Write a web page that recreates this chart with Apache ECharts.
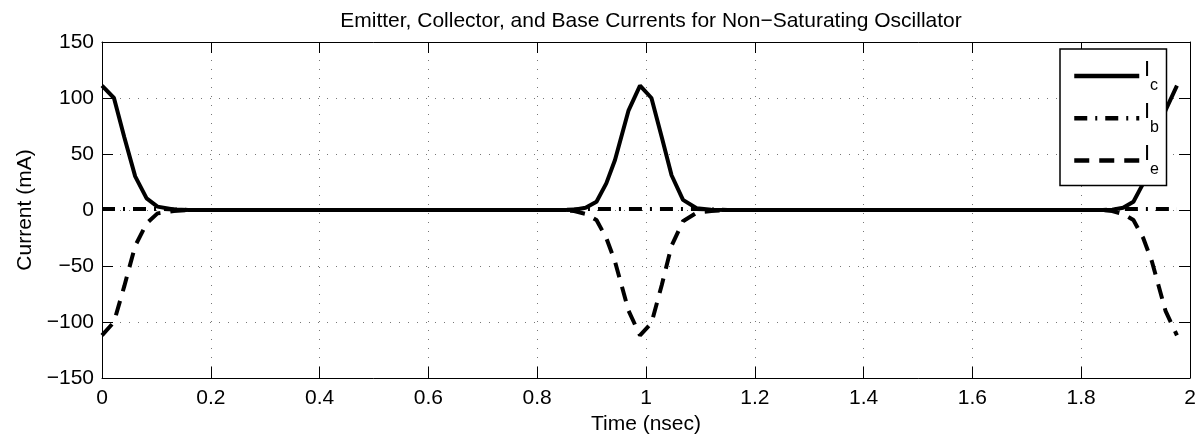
<!DOCTYPE html>
<html>
<head>
<meta charset="UTF-8">
<title>Oscillator currents</title>
<script src="https://cdn.jsdelivr.net/npm/echarts@6/dist/echarts.min.js"></script>
<style>
  html, body { margin: 0; padding: 0; background: #fff; }
  #main { width: 1203px; height: 444px; }
</style>
</head>
<body>
<div id="main"></div>
<script>
// time samples (nsec)
var timeNs = [0, 0.022, 0.041, 0.061, 0.082, 0.102, 0.132, 0.16,
  0.85, 0.868, 0.889, 0.909, 0.927, 0.943, 0.968, 0.989, 1.010, 1.029, 1.047, 1.068, 1.093, 1.12, 1.15,
  1.84, 1.857, 1.877, 1.896, 1.914, 1.930, 1.955, 1.976];
// collector current (mA)
var ic = [111, 100, 65, 30, 10.4, 3, 0.5, 0,
  0, 0.3, 2, 7.4, 23.8, 44.6, 89, 111, 100, 65, 31, 9, 1.5, 0.3, 0,
  0, 0.3, 2, 7.4, 23.8, 44.6, 89, 111];
// base current (mA)
var ib = [1, 1, 1, 1, 1, 1, 0.5, 0,
  0, 0.5, 1, 1, 1, 1, 1, 1, 1, 1, 1, 1, 1, 0.5, 0,
  0, 0.5, 1, 1, 1, 1, 1, 1];
// emitter current (mA)
var ie = [-112, -100, -68, -32, -12, -3, -1, 0,
  0, -1, -3.5, -9, -25, -46, -90, -112, -101, -67, -32, -10, -2.5, -0.8, 0,
  0, -1, -3.5, -9, -25, -46, -90, -112];

var names = ['Ic', 'Ib', 'Ie'];
var subs = ['c', 'b', 'e'];

function pairs(vals) {
  var out = [];
  for (var i = 0; i < timeNs.length; i++) out.push([timeNs[i], vals[i]]);
  return out;
}

var font = 'Liberation Sans, Arial, Helvetica, sans-serif';
var my_chart = echarts.init(document.getElementById('main'), null, { renderer: 'canvas' });

function lineSeries(name, vals, dash) {
  return {
    name: name,
    type: 'line',
    data: pairs(vals),
    showSymbol: false,
    symbol: 'none',
    smooth: false,
    lineStyle: { color: '#000', width: 4, type: dash },
    itemStyle: { color: '#000' },
    z: 3
  };
}

// box around the plot: ticks on all four sides, pointing inward
function boxAxis(pos, extra) {
  var a = {
    type: 'value', position: pos,
    axisLine: { show: true, onZero: false, lineStyle: { color: '#000', width: 1 } },
    axisTick: { show: true, inside: true, length: 11, lineStyle: { color: '#000' } },
    axisLabel: { show: false },
    splitLine: { show: false }
  };
  for (var k in extra) a[k] = extra[k];
  return a;
}

var gridDots = { show: true, lineStyle: { color: '#777', width: 1, type: [1, 8] } };

// legend geometry (box at 1060,49; rows 42px apart); labels I_c etc drawn as text
var legTop = 49, legPad = [13, 25, 14, 12], rowSpan = 42;
var labelGraphics = [];
for (var r = 0; r < names.length; r++) {
  var yc = legTop + legPad[0] + 12.5 + r * rowSpan;
  labelGraphics.push({
    type: 'text', left: 1144, top: yc - 16, z: 100,
    style: { text: 'I', font: '22px ' + font, fill: '#000' }
  });
  labelGraphics.push({
    type: 'text', left: 1150, top: yc + 3, z: 100,
    style: { text: subs[r], font: '16px ' + font, fill: '#000' }
  });
}

var option = {
  animation: false,
  backgroundColor: '#fff',
  textStyle: { fontFamily: font },
  title: {
    text: 'Emitter, Collector, and Base Currents for Non\u2212Saturating Oscillator',
    left: 646,
    textAlign: 'center',
    top: 6,
    textStyle: { fontSize: 21, fontWeight: 'normal', color: '#000', fontFamily: font }
  },
  grid: { left: 102, right: 13, top: 42, bottom: 66 },
  legend: {
    data: names,
    orient: 'vertical',
    left: 1060,
    top: legTop,
    padding: legPad,
    itemWidth: 65,
    itemHeight: 28,
    itemGap: 17,
    backgroundColor: '#fff',
    borderColor: '#000',
    borderWidth: 1.5,
    itemStyle: { opacity: 0 },
    lineStyle: { width: 4.5 },
    formatter: function () { return ''; }
  },
  graphic: labelGraphics,
  xAxis: [boxAxis('bottom', {
    min: 0, max: 2, interval: 0.2,
    name: 'Time (nsec)',
    nameLocation: 'middle',
    nameGap: 34,
    nameTextStyle: { fontSize: 21, color: '#000', fontFamily: font },
    axisLabel: { show: true, fontSize: 21, color: '#000', margin: 10, fontFamily: font },
    splitLine: gridDots
  }), boxAxis('top', { min: 0, max: 2, interval: 0.2 })],
  yAxis: [boxAxis('left', {
    min: -150, max: 150, interval: 50,
    name: 'Current (mA)',
    nameLocation: 'middle',
    nameGap: 58,
    nameTextStyle: { fontSize: 21, color: '#000', fontFamily: font },
    axisLabel: {
      show: true, fontSize: 21, color: '#000', margin: 8, fontFamily: font,
      formatter: function (v) { return v < 0 ? '\u2212' + Math.abs(v) : String(v); }
    },
    splitLine: gridDots
  }), boxAxis('right', { min: -150, max: 150, interval: 50 })],
  series: [
    lineSeries('Ic', ic, 'solid'),
    lineSeries('Ib', ib, [13, 8, 2, 8]),
    lineSeries('Ie', ie, [15, 10])
  ]
};
my_chart.setOption(option);
</script>
</body>
</html>
